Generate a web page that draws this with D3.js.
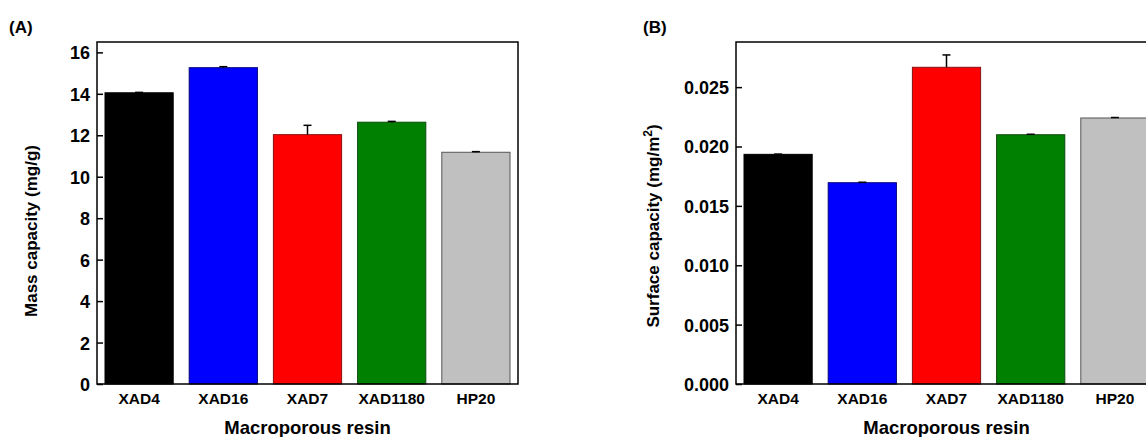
<!DOCTYPE html>
<html>
<head>
<meta charset="utf-8">
<script src="https://cdn.jsdelivr.net/npm/d3@7"></script>
<style>
  html, body { margin: 0; padding: 0; background: #fff; overflow: hidden; }
  text { font-family: Arial, "Liberation Sans", sans-serif; font-weight: bold; fill: #000; }
</style>
</head>
<body>
<svg id="chart" width="1146" height="437"></svg>
<script>
const categories = ["XAD4", "XAD16", "XAD7", "XAD1180", "HP20"];
const barColors = ["#000000", "#0000ff", "#ff0000", "#008000", "#c0c0c0"];
const barStrokes = ["#000000", "#00007a", "#8a1010", "#0d4a0d", "#555555"];
const massValues = [14.05, 15.26, 12.03, 12.63, 11.18];
const massErrors = [0.02, 0.05, 0.45, 0.04, 0.03];
const massTicks = [0, 2, 4, 6, 8, 10, 12, 14, 16];
const surfValues = [0.01934, 0.01695, 0.02667, 0.02099, 0.02240];
const surfErrors = [0.00002, 0.00004, 0.00104, 0.00004, 0.00004];
const surfTicks = [0, 0.005, 0.010, 0.015, 0.020, 0.025];

const svg = d3.select("#chart");

function panel(opts) {
  const { left, right, top, bottom, yMax, values, errors, ticks, fmt,
          tag, tagX, ylabel, ylabelX, ylabelY, tickLabelX } = opts;
  const g = svg.append("g");
  const x = d3.scaleBand().domain(categories).range([left, right])
    .paddingInner(0.19).paddingOuter(0.095);
  const y = d3.scaleLinear().domain([0, yMax]).range([bottom, top]);

  // bars
  g.selectAll("rect.bar").data(categories).enter().append("rect")
    .attr("class", "bar")
    .attr("x", d => x(d))
    .attr("width", x.bandwidth())
    .attr("y", (d, i) => y(values[i]))
    .attr("height", (d, i) => y(0) - y(values[i]))
    .attr("fill", (d, i) => barColors[i])
    .attr("stroke", (d, i) => barStrokes[i])
    .attr("stroke-width", 1);

  // error bars (upper only)
  const eb = g.selectAll("g.err").data(categories).enter().append("g").attr("class", "err");
  eb.append("line")
    .attr("x1", d => x(d) + x.bandwidth() / 2)
    .attr("x2", d => x(d) + x.bandwidth() / 2)
    .attr("y1", (d, i) => y(values[i]))
    .attr("y2", (d, i) => y(values[i] + errors[i]))
    .attr("stroke", "#000").attr("stroke-width", 1.5);
  eb.append("line")
    .attr("x1", d => x(d) + x.bandwidth() / 2 - 4)
    .attr("x2", d => x(d) + x.bandwidth() / 2 + 4)
    .attr("y1", (d, i) => y(values[i] + errors[i]))
    .attr("y2", (d, i) => y(values[i] + errors[i]))
    .attr("stroke", "#000").attr("stroke-width", 1.5);

  // frame
  g.append("rect")
    .attr("x", left).attr("y", top)
    .attr("width", right - left).attr("height", bottom - top)
    .attr("fill", "none").attr("stroke", "#000").attr("stroke-width", 1.5);

  // y axis with inward ticks
  const yAxis = d3.axisLeft(y).tickValues(ticks).tickSize(-6).tickPadding(0).tickFormat(fmt);
  const ya = g.append("g").attr("transform", `translate(${left},0)`).call(yAxis);
  ya.select(".domain").remove();
  ya.selectAll(".tick line").attr("stroke", "#000").attr("stroke-width", 1.5);
  ya.selectAll(".tick text")
    .attr("x", tickLabelX - left)
    .attr("dy", "0.36em")
    .style("font-size", "18px")
    .style("font-family", "Arial, 'Liberation Sans', sans-serif")
    .style("font-weight", "bold")
    .attr("fill", "#000");

  // x axis labels
  const xAxis = d3.axisBottom(x).tickSize(0).tickPadding(0);
  const xa = g.append("g").attr("transform", `translate(0,${bottom})`).call(xAxis);
  xa.select(".domain").remove();
  xa.selectAll(".tick text")
    .attr("y", 20).attr("dy", 0)
    .style("font-size", "15.5px")
    .style("font-family", "Arial, 'Liberation Sans', sans-serif")
    .style("font-weight", "bold")
    .attr("fill", "#000");

  // x title
  g.append("text")
    .attr("x", (left + right) / 2).attr("y", 434)
    .attr("text-anchor", "middle")
    .style("font-size", "18.5px")
    .text("Macroporous resin");

  // y title
  const yt = g.append("text")
    .attr("transform", `translate(${ylabelX},${ylabelY}) rotate(-90)`)
    .attr("text-anchor", "middle")
    .style("font-size", "17px");
  ylabel(yt);

  // panel tag
  g.append("text").attr("x", tagX).attr("y", 33)
    .style("font-size", "17px").text(tag);
}

panel({
  left: 97, right: 518, top: 42, bottom: 384, yMax: 16.5,
  values: massValues, errors: massErrors, ticks: massTicks,
  fmt: d3.format("d"), tag: "(A)", tagX: 9,
  ylabelX: 37, ylabelY: 231, tickLabelX: 90,
  ylabel: t => t.text("Mass capacity (mg/g)")
});

panel({
  left: 736, right: 1157, top: 42, bottom: 384, yMax: 0.0288,
  values: surfValues, errors: surfErrors, ticks: surfTicks,
  fmt: d3.format(".3f"), tag: "(B)", tagX: 643,
  ylabelX: 659, ylabelY: 226, tickLabelX: 729,
  ylabel: t => {
    t.append("tspan").text("Surface capacity (mg/m");
    t.append("tspan").attr("baseline-shift", "super").style("font-size", "12px").text("2");
    t.append("tspan").text(")");
  }
});
</script>
</body>
</html>
